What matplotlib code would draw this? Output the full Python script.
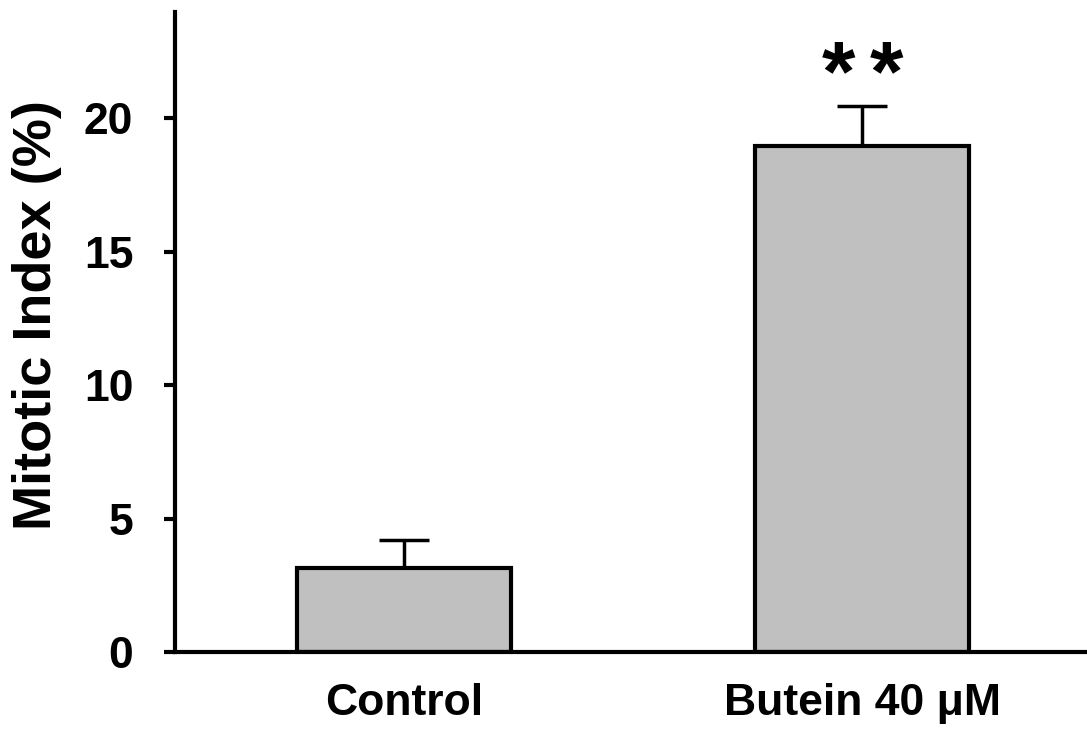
import matplotlib.pyplot as plt
import numpy as np

# dados
groups = ['Control', 'Butein 40 μM']
mitotic = [3.15, 18.95]
err = [1.05, 1.5]
sig = ['', '**']

plt.rcParams['font.family'] = ['Liberation Sans', 'DejaVu Sans']
plt.rcParams['font.weight'] = 'bold'

fig = plt.figure(figsize=(10.87, 7.31), dpi=100)
ax = fig.add_axes([0.161, 0.108, 0.839, 0.876])

x = np.arange(len(groups))
ax.bar(x, mitotic, width=0.467, color='#c0c0c0', edgecolor='black', linewidth=3, zorder=2)
ax.errorbar(x, mitotic, yerr=[np.zeros(len(err)), err], fmt='none', ecolor='black',
            elinewidth=2.5, capsize=18, capthick=2.5, zorder=1)

# asteriscos de significancia, um a um para o espacamento
for xi, m, e, s in zip(x, mitotic, err, sig):
    n = len(s)
    for k, ch in enumerate(s):
        off = (k - (n - 1) / 2) * 35
        ax.annotate(ch, (xi, m + e + 0.25), xytext=(off, 0), textcoords='offset points',
                    ha='center', va='baseline', fontsize=62, fontweight='bold')

ax.set_xlim(-0.5, 1.49)
ax.set_ylim(0, 24)
ax.set_yticks([0, 5, 10, 15, 20])
ax.set_xticks(x)
ax.set_xticklabels(groups, fontsize=32, fontweight='bold')
ax.tick_params(axis='y', labelsize=32, width=3, length=8, direction='out', pad=22)
ax.tick_params(axis='x', length=0, pad=22)
for lab in ax.get_yticklabels():
    lab.set_fontweight('bold')

ax.set_ylabel('Mitotic Index (%)', fontsize=39, fontweight='bold', labelpad=16)
ax.yaxis.label.set_y(0.527)

ax.spines['top'].set_visible(False)
ax.spines['right'].set_visible(False)
ax.spines['left'].set_linewidth(3)
ax.spines['bottom'].set_linewidth(3)

fig.savefig('out.png', dpi=100)
